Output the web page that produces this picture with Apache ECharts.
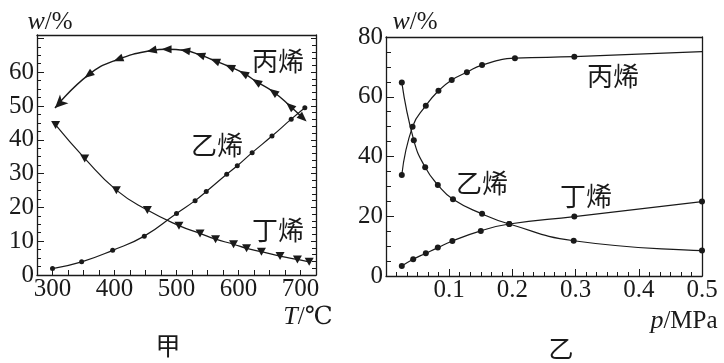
<!DOCTYPE html>
<html>
<head>
<meta charset="utf-8">
<script src="https://cdn.jsdelivr.net/npm/echarts@6/dist/echarts.min.js"></script>
<style>
html,body{margin:0;padding:0;background:#fff;}
#chart{width:724px;height:363px;}
</style>
</head>
<body>
<div id="chart"></div>
<script>
// ---------- Data ----------
// Left panel (甲): mass fraction w/% versus temperature T/℃
const leftPropyleneT = [304, 358, 406, 460, 484, 514, 538, 562, 586, 608, 629, 656, 683, 704];
const leftPropyleneW = [49.4, 59.2, 63.8, 66.4, 66.8, 66.4, 65.1, 63.4, 61.6, 59.7, 57.2, 54.2, 50.0, 46.4];
const leftEthyleneT  = [300, 347, 397, 448, 500, 530, 548, 581, 598, 622, 654, 685, 707];
const leftEthyleneW  = [1.9, 3.9, 7.3, 11.5, 18.2, 22.0, 24.7, 29.8, 32.3, 36.2, 41.1, 46.1, 49.5];
const leftButeneT    = [305, 352, 403, 453, 504, 538, 563, 592, 613, 637, 667, 695, 714];
const leftButeneW    = [44.4, 34.5, 25.1, 19.2, 14.6, 12.3, 10.6, 9.1, 7.9, 6.9, 5.6, 4.6, 3.9];
const leftXTickLabels = [300, 400, 500, 600, 700];
const leftYTickLabels = [0, 10, 20, 30, 40, 50, 60];

// Right panel (乙): mass fraction w/% versus pressure p/MPa
const rightPropyleneP = [0.025, 0.042, 0.063, 0.083, 0.104, 0.128, 0.152, 0.204, 0.298, 0.5];
const rightPropyleneW = [33.8, 50.0, 57.0, 62.0, 65.6, 68.2, 70.6, 72.9, 73.4, 75.1];
const rightEthyleneP  = [0.025, 0.044, 0.062, 0.082, 0.106, 0.152, 0.195, 0.297, 0.5];
const rightEthyleneW  = [64.8, 45.4, 36.4, 30.5, 25.7, 20.8, 17.4, 11.8, 8.5];
const rightButeneP    = [0.025, 0.043, 0.063, 0.082, 0.105, 0.150, 0.195, 0.298, 0.5];
const rightButeneW    = [3.35, 5.6, 7.6, 9.5, 11.7, 15.1, 17.4, 19.9, 24.9];
const rightXTickLabels = [0.1, 0.2, 0.3, 0.4, 0.5];
const rightYTickLabels = [0, 20, 40, 60, 80];

const seriesNames = ['丙烯', '乙烯', '丁烯'];

// ---------- Chart ----------
const INK = '#1a1a1a';
const numFont = '"Liberation Serif", "DejaVu Serif", serif';
const cjkFont = '"Noto Sans CJK SC", "Noto Sans", sans-serif';

const chart = echarts.init(document.getElementById('chart'), null, {renderer: 'canvas'});

function zip(xs, ys) { return xs.map((x, i) => [x, ys[i]]); }

const axisLineStyle = {lineStyle: {color: INK, width: 1.3}};
const tickLabelStyle = {color: INK, fontFamily: numFont, fontSize: 25};
const SMOOTH = 0.5;

const option = {
  animation: false,
  backgroundColor: '#fff',
  grid: [
    {left: 37, top: 35, width: 279, height: 240, show: false},
    {left: 386, top: 37, width: 316, height: 239, show: false}
  ],
  xAxis: [
    {
      type: 'value', gridIndex: 0, min: 275, max: 725, interval: 25,
      axisLine: {show: true, onZero: false, ...axisLineStyle},
      axisTick: {show: true, inside: true, length: 5, lineStyle: {color: INK}},
      axisLabel: {show: true, margin: 2, ...tickLabelStyle,
        formatter: v => leftXTickLabels.indexOf(v) >= 0 ? String(v) : ''},
      splitLine: {show: false}
    },
    {
      type: 'value', gridIndex: 0, position: 'top', min: 275, max: 725,
      axisLine: {show: true, onZero: false, ...axisLineStyle},
      axisTick: {show: false}, axisLabel: {show: false}, splitLine: {show: false}
    },
    {
      type: 'value', gridIndex: 1, min: 0, max: 0.5, interval: 0.1,
      axisLine: {show: true, onZero: false, ...axisLineStyle},
      axisTick: {show: true, inside: true, length: 7, lineStyle: {color: INK}},
      minorTick: {show: true, splitNumber: 6, length: 4, lineStyle: {color: INK}},
      axisLabel: {show: true, margin: 2, ...tickLabelStyle,
        formatter: v => {
          const r = Math.round(v * 10) / 10;
          return rightXTickLabels.indexOf(r) >= 0 ? String(r) : '';
        }},
      splitLine: {show: false}, minorSplitLine: {show: false}
    },
    {
      type: 'value', gridIndex: 1, position: 'top', min: 0, max: 0.5,
      axisLine: {show: true, onZero: false, ...axisLineStyle},
      axisTick: {show: false}, axisLabel: {show: false}, splitLine: {show: false}
    }
  ],
  yAxis: [
    {
      type: 'value', gridIndex: 0, min: 0, max: 71, interval: 10,
      axisLine: {show: true, onZero: false, ...axisLineStyle},
      axisTick: {show: true, inside: true, length: 7, lineStyle: {color: INK}},
      minorTick: {show: true, splitNumber: 4, length: 4, lineStyle: {color: INK}},
      axisLabel: {show: true, margin: 3, ...tickLabelStyle,
        formatter: v => leftYTickLabels.indexOf(v) >= 0 ? String(v) : ''},
      splitLine: {show: false}, minorSplitLine: {show: false}
    },
    {
      type: 'value', gridIndex: 0, position: 'right', min: 0, max: 71, interval: 10,
      axisLine: {show: true, onZero: false, ...axisLineStyle},
      axisTick: {show: true, inside: true, length: 5, lineStyle: {color: INK}},
      minorTick: {show: true, splitNumber: 5, length: 4, lineStyle: {color: INK}},
      axisLabel: {show: false}, splitLine: {show: false}, minorSplitLine: {show: false}
    },
    {
      type: 'value', gridIndex: 1, min: 0, max: 80, interval: 20,
      axisLine: {show: true, onZero: false, ...axisLineStyle},
      axisTick: {show: true, inside: true, length: 8, lineStyle: {color: INK}},
      minorTick: {show: true, splitNumber: 4, length: 5, lineStyle: {color: INK}},
      axisLabel: {show: true, margin: 3, ...tickLabelStyle,
        formatter: v => rightYTickLabels.indexOf(v) >= 0 ? String(v) : ''},
      splitLine: {show: false}, minorSplitLine: {show: false}
    },
    {
      type: 'value', gridIndex: 1, position: 'right', min: 0, max: 80,
      axisLine: {show: true, onZero: false, ...axisLineStyle},
      axisTick: {show: false}, axisLabel: {show: false}, splitLine: {show: false}
    }
  ],
  series: [
    {
      name: seriesNames[0] + '-T', type: 'line', xAxisIndex: 0, yAxisIndex: 0,
      data: zip(leftPropyleneT, leftPropyleneW),
      smooth: SMOOTH,
      symbol: 'triangle', symbolSize: [8, 10],
      itemStyle: {color: INK}, lineStyle: {color: INK, width: 1.4}
    },
    {
      name: seriesNames[1] + '-T', type: 'line', xAxisIndex: 0, yAxisIndex: 0,
      data: zip(leftEthyleneT, leftEthyleneW),
      smooth: SMOOTH,
      symbol: 'circle', symbolSize: 5,
      itemStyle: {color: INK}, lineStyle: {color: INK, width: 1.2}
    },
    {
      name: seriesNames[2] + '-T', type: 'line', xAxisIndex: 0, yAxisIndex: 0,
      data: zip(leftButeneT, leftButeneW),
      smooth: SMOOTH,
      symbol: 'triangle', symbolSize: [9, 8], symbolRotate: 180,
      itemStyle: {color: INK}, lineStyle: {color: INK, width: 1.2}
    },
    {
      name: seriesNames[0] + '-p', type: 'line', xAxisIndex: 2, yAxisIndex: 2,
      data: zip(rightPropyleneP, rightPropyleneW).map((d, i, a) =>
        i === a.length - 1 ? {value: d, symbol: 'none'} : d),
      smooth: SMOOTH,
      symbol: 'circle', symbolSize: 6,
      itemStyle: {color: INK}, lineStyle: {color: INK, width: 1.2}
    },
    {
      name: seriesNames[1] + '-p', type: 'line', xAxisIndex: 2, yAxisIndex: 2,
      data: zip(rightEthyleneP, rightEthyleneW),
      smooth: SMOOTH,
      symbol: 'circle', symbolSize: 6,
      itemStyle: {color: INK}, lineStyle: {color: INK, width: 1.2}
    },
    {
      name: seriesNames[2] + '-p', type: 'line', xAxisIndex: 2, yAxisIndex: 2,
      data: zip(rightButeneP, rightButeneW),
      smooth: SMOOTH,
      symbol: 'circle', symbolSize: 6,
      itemStyle: {color: INK}, lineStyle: {color: INK, width: 1.2}
    }
  ],
  graphic: [
    {type: 'text', x: 278, y: 61, style: {text: seriesNames[0], font: '26px ' + cjkFont, fill: INK, align: 'center', verticalAlign: 'middle'}},
    {type: 'text', x: 217, y: 145, style: {text: seriesNames[1], font: '26px ' + cjkFont, fill: INK, align: 'center', verticalAlign: 'middle'}},
    {type: 'text', x: 278, y: 230, style: {text: seriesNames[2], font: '26px ' + cjkFont, fill: INK, align: 'center', verticalAlign: 'middle'}},
    {type: 'text', x: 613, y: 76, style: {text: seriesNames[0], font: '26px ' + cjkFont, fill: INK, align: 'center', verticalAlign: 'middle'}},
    {type: 'text', x: 482, y: 183, style: {text: seriesNames[1], font: '26px ' + cjkFont, fill: INK, align: 'center', verticalAlign: 'middle'}},
    {type: 'text', x: 586, y: 196, style: {text: seriesNames[2], font: '26px ' + cjkFont, fill: INK, align: 'center', verticalAlign: 'middle'}},
    {type: 'text', x: 168, y: 345, style: {text: '甲', font: '25px ' + cjkFont, fill: INK, align: 'center', verticalAlign: 'middle'}},
    {type: 'text', x: 561, y: 348, style: {text: '乙', font: '25px ' + cjkFont, fill: INK, align: 'center', verticalAlign: 'middle'}},
    {type: 'text', x: 50, y: 22, style: {text: '{i|w}{n|/%}', align: 'center', verticalAlign: 'middle', fill: INK,
      rich: {i: {font: 'italic 26px ' + numFont, fill: INK}, n: {font: '25px ' + numFont, fill: INK}}}},
    {type: 'text', x: 415, y: 22, style: {text: '{i|w}{n|/%}', align: 'center', verticalAlign: 'middle', fill: INK,
      rich: {i: {font: 'italic 26px ' + numFont, fill: INK}, n: {font: '25px ' + numFont, fill: INK}}}},
    {type: 'text', x: 308, y: 317, style: {text: '{i|T}{n|/℃}', align: 'center', verticalAlign: 'middle', fill: INK,
      rich: {i: {font: 'italic 26px ' + numFont, fill: INK}, n: {font: '25px ' + numFont, fill: INK}}}},
    {type: 'text', x: 684, y: 321, style: {text: '{i|p}{n|/MPa}', align: 'center', verticalAlign: 'middle', fill: INK,
      rich: {i: {font: 'italic 26px ' + numFont, fill: INK}, n: {font: '25px ' + numFont, fill: INK}}}}
  ]
};

chart.setOption(option);

// Orient the 丙烯 (left panel) triangle markers along the curve, pointing toward lower T.
const pts = zip(leftPropyleneT, leftPropyleneW).map(d => chart.convertToPixel({xAxisIndex: 0, yAxisIndex: 0}, d));
const rotated = zip(leftPropyleneT, leftPropyleneW).map((d, i) => {
  const n = pts.length;
  const a = pts[Math.min(i + 1, n - 1)];
  const b = pts[Math.max(i - 1, 0)];
  let dx = b[0] - a[0], dy = b[1] - a[1];
  if (i === n - 1) { dx = -dx; dy = -dy; }
  const theta = Math.atan2(-dy, dx) * 180 / Math.PI;
  const item = {value: d, symbolRotate: theta - 90};
  if (i === 0) { item.symbol = 'arrow'; item.symbolSize = [9, 13]; }
  return item;
});
chart.setOption({series: [{name: seriesNames[0] + '-T', data: rotated}]});
</script>
</body>
</html>
